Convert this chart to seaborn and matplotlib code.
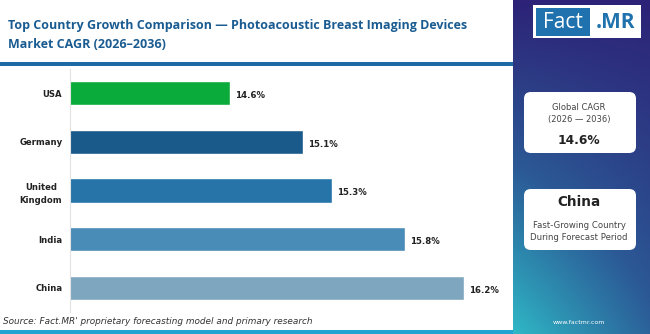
import numpy as np
import matplotlib
matplotlib.use("Agg")
import matplotlib.pyplot as plt
from matplotlib.patches import FancyBboxPatch, Rectangle
from matplotlib.colors import to_rgb
import seaborn as sns

countries = ["USA", "Germany", "United\nKingdom", "India", "China"]
cagr = [14.6, 15.1, 15.3, 15.8, 16.2]
bar_colors = ["#0aab3a", "#1a5a8b", "#2674a8", "#4a8cb8", "#7fa6bf"]
value_labels = ["14.6%", "15.1%", "15.3%", "15.8%", "16.2%"]

title = "Top Country Growth Comparison \u2014 Photoacoustic Breast Imaging Devices\nMarket CAGR (2026\u20132036)"
source = "Source: Fact.MR' proprietary forecasting model and primary research"
global_cagr = "14.6%"
lead_country = "China"

sns.set_theme(style="white")
plt.rcParams["font.family"] = ["DejaVu Sans"]

W, H = 650, 334
fig = plt.figure(figsize=(W / 100, H / 100), dpi=100)
fig.patch.set_facecolor("white")

def fx(px):
    return px / W

def fy(py):
    return 1 - py / H

# ---- main bar chart
ax = fig.add_axes([fx(70), fy(312), fx(500) - fx(70), fy(69) - fy(312)])
sns.barplot(x=cagr, y=countries, hue=countries, palette=bar_colors,
            width=0.5, legend=False, ax=ax, orient="h", saturation=1)
ax.set_xlim(13.5, 16.45)
ax.set_ylim(4.5, -0.5)
ax.set_xticks([])
ax.set_xlabel("")
ax.set_ylabel("")
for s in ["top", "right", "bottom"]:
    ax.spines[s].set_visible(False)
ax.spines["left"].set_color("#e2e2e2")
ax.spines["left"].set_linewidth(0.8)
ax.set_yticks(range(len(countries)))
ax.set_yticklabels(countries, fontsize=6.1, fontweight="bold", color="#222222",
                   ha="right", multialignment="center", linespacing=1.7)
ax.tick_params(axis="y", which="major", length=0, pad=5.5)
ax.set_yticks([0.5, 1.5, 2.5, 3.5], minor=True)
ax.tick_params(axis="y", which="minor", length=3, color="#e2e2e2", width=0.8)
ax.set_facecolor("white")

for i, (v, lab) in enumerate(zip(cagr, value_labels)):
    ax.text(v + 0.035, i + 0.05, lab, va="center", ha="left",
            fontsize=6.2, fontweight="bold", color="#222222")

# ---- title and rule
title_lines = title.split("\n")
fig.text(fx(8), fy(25), title_lines[0], fontsize=9.0, fontweight="bold",
         family="Open Sans", color="#1a5c91", va="center", ha="left")
fig.text(fx(8), fy(44), title_lines[1], fontsize=9.0, fontweight="bold",
         family="Open Sans", color="#1a5c91", va="center", ha="left")
fig.add_artist(Rectangle((0, fy(65.5)), fx(513), 3 / H, transform=fig.transFigure,
                         color="#1f6aa5", lw=0))

# ---- source line and bottom bar
fig.text(fx(3), fy(322), source, fontsize=6.4, style="italic", color="#333333",
         va="center", ha="left")
fig.add_artist(Rectangle((0, 0), fx(513), 4 / H, transform=fig.transFigure,
                         color="#1ea3d2", lw=0))

# ---- side panel with gradient
side = fig.add_axes([fx(513), 0, 1 - fx(513), 1])
side.set_axis_off()
ny, nx = 200, 60
yy, xx = np.mgrid[0:1:ny * 1j, 0:1:nx * 1j]
t = np.clip(yy * (1.0 - 0.45 * xx), 0, 1)
top = np.array(to_rgb("#2d2277"))
mid = np.array(to_rgb("#2b5a96"))
bot = np.array(to_rgb("#2fb8c6"))
img = np.where(t[..., None] < 0.5,
               top + (mid - top) * (t[..., None] / 0.5),
               mid + (bot - mid) * ((t[..., None] - 0.5) / 0.5))
side.imshow(img, aspect="auto", extent=[0, 1, 0, 1], origin="upper")
side.set_xlim(0, 1)
side.set_ylim(0, 1)

def sx(px):
    return (px - 513) / (W - 513)

def sy(py):
    return 1 - py / H

# logo
side.add_patch(Rectangle((sx(533), sy(38)), sx(641) - sx(533), sy(5) - sy(38),
                         color="white", lw=0))
side.add_patch(Rectangle((sx(536), sy(35.5)), sx(590) - sx(536), sy(7.5) - sy(35.5),
                         color="#1f72ad", lw=0))
side.text(sx(563), sy(22), "Fact", fontsize=15, color="white",
          family="Open Sans", ha="center", va="center")
side.text(sx(615.5), sy(22), ".MR", fontsize=15, color="#1f72ad",
          family="Open Sans", fontweight="bold", ha="center", va="center")

# info boxes
for y0, y1 in [(92, 153), (189, 250)]:
    side.add_patch(FancyBboxPatch((sx(524), sy(y1)), sx(636) - sx(524), sy(y0) - sy(y1),
                                  boxstyle="round,pad=0,rounding_size=0.05",
                                  fc="white", ec="none", mutation_aspect=0.4))

cx = sx(579)
side.text(cx, sy(107), "Global CAGR", fontsize=6, color="#444444",
          ha="center", va="center")
side.text(cx, sy(119.5), "(2026 \u2014 2036)", fontsize=6, color="#444444",
          ha="center", va="center")
side.text(cx, sy(140), global_cagr, fontsize=8.8, fontweight="bold",
          color="#222222", ha="center", va="center")

side.text(cx, sy(202), lead_country, fontsize=9.8, fontweight="bold",
          color="#222222", ha="center", va="center")
side.text(cx, sy(225), "Fast-Growing Country", fontsize=6.1, color="#444444",
          ha="center", va="center")
side.text(cx, sy(238), "During Forecast Period", fontsize=6.1, color="#444444",
          ha="center", va="center")

side.text(cx, sy(322), "www.factmr.com", fontsize=4.5, color="white",
          ha="center", va="center")

fig.savefig("out.png", dpi=100, facecolor="white")
